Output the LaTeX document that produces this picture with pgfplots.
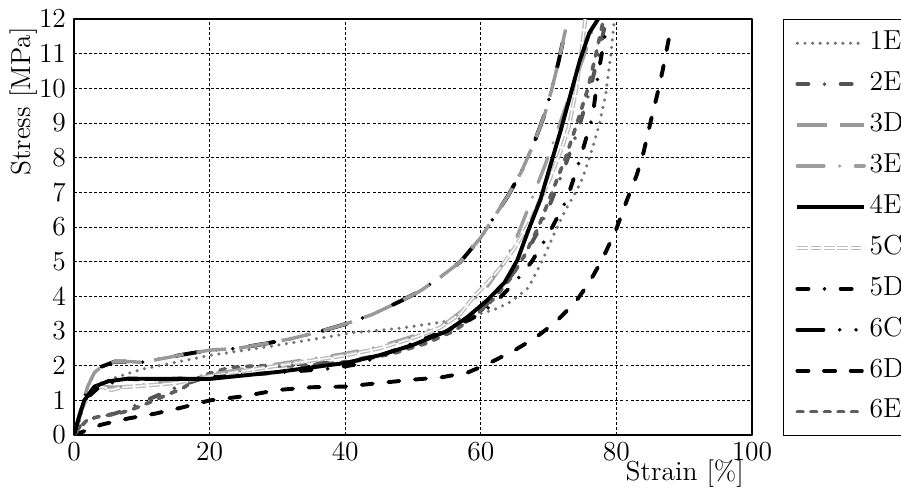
\documentclass[border=0pt]{standalone}
\usepackage{pgfplots}
\pgfplotsset{compat=1.18}
\usetikzlibrary{calc}

\definecolor{c1E}{gray}{0.45}
\definecolor{c2E}{gray}{0.33}
\definecolor{c3D}{gray}{0.6}
\definecolor{c3E}{gray}{0.62}
\definecolor{c5C}{gray}{0.74}
\definecolor{c6E}{gray}{0.37}

\pgfplotsset{
  s1E/.style={c1E, line width=1.5bp, line cap=round, dash pattern=on 0bp off 3.3bp},
  s2E/.style={c2E, line width=1.7bp, line cap=round, dash pattern=on 4.8bp off 7bp on 0bp off 7bp},
  s3D/.style={c3D, line width=1.5bp, dash pattern=on 13bp off 5.7bp},
  s3E/.style={c3E, line width=1.5bp, line cap=round, dash pattern=on 11.5bp off 6.9bp on 0bp off 6.9bp},
  s4E/.style={black, line width=1.7bp},
  s5C/.style={c5C, double=white, double distance=0.6bp, line width=0.6bp, dash pattern=on 4.6bp off 1.2bp},
  s5D/.style={black, line width=1.7bp, line cap=round, dash pattern=on 4.8bp off 7bp on 0bp off 7bp},
  s6C/.style={black, line width=1.7bp, line cap=round, dash pattern=on 11.3bp off 7.1bp on 0bp off 7.1bp on 0bp off 7.1bp},
  s6D/.style={black, line width=1.7bp, line cap=round, dash pattern=on 4.8bp off 6.8bp},
  s6E/.style={c6E, line width=1.6bp, line cap=round, dash pattern=on 2.4bp off 3.5bp},
}

\begin{document}
\begin{tikzpicture}[font=\fontsize{12}{14}\selectfont]
\begin{axis}[
  scale only axis, width=294.8bp, height=180.9bp,
  xmin=0, xmax=100, ymin=0, ymax=12,
  xtick={0,20,...,100}, ytick={0,1,...,12},
  tick label style={font=\fontsize{12}{14}\selectfont},
  label style={font=\fontsize{12}{14}\selectfont},
  grid=major,
  major grid style={black, line width=0.4bp, dash pattern=on 1.3bp off 0.9bp},
  major tick length=0pt,
  axis line style={line width=1.1bp},
  xlabel={Strain [\%]}, ylabel={Stress [MPa]},
  xlabel style={at={(rel axis cs:1,0)}, anchor=north east, yshift=-7.3bp},
  ylabel style={at={(rel axis cs:0,1)}, anchor=south east, yshift=12.3bp},
  no markers, line join=round,
  legend cell align=left,
  legend image code/.code={\draw[#1] (0bp,0bp) -- (29bp,0bp);},
  legend style={at={(rel axis cs:1,1)}, anchor=north west, xshift=13.3bp,
    draw=black, line width=0.5bp, inner xsep=5.3bp, inner ysep=4.5bp,
    font=\fontsize{12}{14}\selectfont,
    nodes={inner sep=0pt, text height=8.5bp, text depth=3bp},
    row sep=6.3bp, column sep=1.5bp},
]
% 6C (under 3D)
\addplot[s6C, forget plot] coordinates {(0,0) (1,0.7) (2,1.4) (3,1.8) (4,1.97) (6,2.12) (8,2.12) (10,2.1) (12,2.17) (16,2.32) (20,2.45) (24,2.5) (28,2.63) (32,2.78) (36,2.97) (40,3.2) (44,3.48) (48,3.85) (51,4.15) (54,4.55) (57,5.0) (60,5.7) (62,6.3) (64,6.9) (66,7.6) (68,8.5) (69.5,9.3) (70.5,10.0) (71.5,10.8) (72.5,11.7)};
% 3D
\addplot[s3D, forget plot] coordinates {(0,0) (1,0.7) (2,1.4) (3,1.8) (4,1.97) (6,2.12) (8,2.12) (10,2.1) (12,2.17) (16,2.32) (20,2.45) (24,2.5) (28,2.63) (32,2.78) (36,2.97) (40,3.2) (44,3.48) (48,3.85) (51,4.15) (54,4.55) (57,5.0) (60,5.7) (62,6.3) (64,6.9) (66,7.6) (68,8.5) (69.5,9.3) (70.5,10.0) (71.5,10.8) (72.5,11.7)};
% 6D
\addplot[s6D, forget plot] coordinates {(0,0) (2,0.15) (4,0.3) (8,0.48) (12,0.62) (16,0.8) (20,1.0) (25,1.12) (30,1.3) (35,1.38) (40,1.4) (45,1.5) (50,1.6) (54,1.66) (58,1.8) (61,2.05) (65,2.45) (68,2.8) (71,3.25) (74,3.85) (76,4.4) (78,5.1) (80,5.95) (81.5,6.75) (83,7.5) (84,8.15) (85,9.0) (86,9.8) (86.8,10.5) (87.6,11.3) (87.9,11.6)};
% 1E
\addplot[s1E, forget plot] coordinates {(0,0) (0.8,0.4) (1.5,0.9) (2.5,1.3) (4,1.5) (6,1.65) (8,1.78) (10,1.9) (15,2.1) (20,2.3) (27,2.5) (34,2.72) (41,2.95) (48,3.08) (55,3.28) (59,3.45) (62,3.62) (64.5,3.85) (67,4.25) (69,5.0) (70.8,5.8) (72.5,6.5) (74,7.0) (75,7.4) (76.2,8.1) (77.4,8.9) (78.4,9.8) (79.2,11.0) (79.7,12)};
% 2E
\addplot[s2E, forget plot] coordinates {(0,0) (1,0.3) (2,0.45) (4,0.55) (6,0.62) (8,0.75) (10,0.95) (13,1.2) (16,1.45) (20,1.7) (25,1.9) (30,2.0) (35,2.05) (40,2.12) (45,2.3) (50,2.6) (54,2.9) (57,3.2) (60,3.6) (63,4.2) (66,5.0) (68.5,5.9) (70.5,6.8) (72.5,7.8) (74.5,8.9) (76,9.9) (77.3,10.9) (78.5,12)};
% 6E
\addplot[s6E, forget plot] coordinates {(0,0) (1,0.25) (2,0.45) (4,0.55) (6,0.6) (8,0.7) (10,0.85) (13,1.1) (16,1.35) (18,1.6) (20,1.78) (23,1.95) (27,2.0) (32,2.0) (37,2.05) (42,2.15) (47,2.35) (52,2.65) (56,3.0) (59,3.4) (62,3.95) (64.5,4.55) (66.5,5.2) (68.5,6.0) (70.5,7.0) (72.5,8.0) (74.2,9.0) (75.8,10.0) (77,11.0) (78,11.9)};
% 3E
\addplot[s3E, forget plot] coordinates {(0,0) (1,0.7) (2,1.1) (3,1.3) (4,1.4) (6,1.38) (8,1.4) (10,1.45) (15,1.6) (20,1.75) (25,1.9) (30,2.05) (35,2.2) (40,2.35) (45,2.55) (50,2.85) (55,3.25) (58,3.7) (61,4.3) (63.5,5.0) (65.5,5.8) (67.5,6.8) (69.5,7.8) (71.5,8.9) (73.5,10.0) (75.5,11.1) (77,12)};
% 5C
\addplot[s5C, forget plot] coordinates {(0,0) (1,0.7) (2,1.1) (3,1.3) (4,1.4) (5.5,1.3) (7,1.38) (10,1.42) (15,1.5) (20,1.7) (25,1.85) (30,2.0) (35,2.15) (40,2.3) (45,2.5) (50,2.8) (54,3.1) (57,3.5) (59,4.0) (61,4.4) (63,4.85) (65,5.4) (67.4,6.2) (70,7.3) (72,8.3) (73,8.9) (74,9.9) (75,11.3) (75.4,12)};
% 4E
\addplot[s4E, forget plot] coordinates {(0,0) (0.7,0.5) (1.5,1.0) (3,1.4) (5,1.55) (8,1.63) (12,1.62) (16,1.62) (20,1.62) (25,1.72) (30,1.82) (35,1.95) (40,2.08) (45,2.3) (50,2.6) (55,3.0) (58,3.4) (61,3.9) (63.5,4.4) (65.4,5.05) (67,5.9) (68.8,6.8) (70.3,7.8) (71.8,8.8) (73.2,9.8) (74.6,10.8) (76,11.6) (77.3,12)};
% 5D
\addplot[s5D, forget plot] coordinates {(0,0) (0.5,0.4) (1.5,1.0) (4,1.44) (8,1.62) (12,1.6) (17,1.64) (20,1.66) (26,1.75) (32,1.83) (38,1.92) (42,2.05) (46,2.35) (52,2.8) (57,3.2) (60,3.5) (62.5,3.9) (65,4.4) (67.5,5.0) (70,5.8) (72.7,6.8) (74.7,8.0) (76.5,9.2) (77.3,10.4) (78.3,11.5)};

\addlegendimage{s1E}\addlegendentry{1E}
\addlegendimage{s2E}\addlegendentry{2E}
\addlegendimage{s3D}\addlegendentry{3D}
\addlegendimage{s3E}\addlegendentry{3E}
\addlegendimage{s4E}\addlegendentry{4E}
\addlegendimage{s5C}\addlegendentry{5C}
\addlegendimage{s5D}\addlegendentry{5D}
\addlegendimage{s6C}\addlegendentry{6C}
\addlegendimage{s6D}\addlegendentry{6D}
\addlegendimage{s6E}\addlegendentry{6E}

\coordinate (ll) at (rel axis cs:0,0);
\coordinate (ur) at (rel axis cs:1,1);
\end{axis}
\pgfresetboundingbox
\useasboundingbox ($(ll)+(-32.2bp,-23bp)$) rectangle ($(ur)+(64.8bp,8.3bp)$);
\end{tikzpicture}
\end{document}
